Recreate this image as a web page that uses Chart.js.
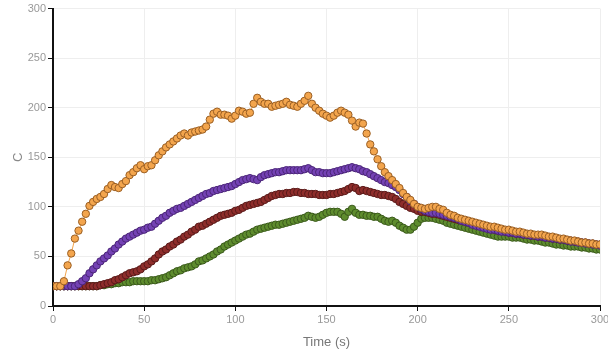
<!DOCTYPE html>
<html>
<head>
<meta charset="utf-8">
<script src="https://cdn.jsdelivr.net/npm/chart.js@4"></script>
<style>
  html, body { margin: 0; padding: 0; background: #fff; }
  #wrap { width: 608px; height: 350px; }
</style>
</head>
<body>
<div id="wrap"><canvas id="chart"></canvas></div>
<script>
"use strict";

// tidpunkter, var 2:a sekund
const times = [];
for (let t = 0; t <= 300; t += 2) times.push(t);

const orangeValues = [
  20, 20, 20, 25, 41, 53, 68, 76, 85, 93,
  101, 105, 108, 110, 113, 118, 122, 120, 119, 123,
  126, 132, 135, 139, 142, 138, 141, 142, 147, 152,
  156, 160, 163, 166, 169, 172, 174, 172, 175, 176,
  177, 178, 181, 188, 194, 196, 193, 193, 192, 189,
  192, 197, 196, 194, 195, 204, 210, 206, 204, 204,
  201, 202, 203, 204, 206, 203, 202, 201, 204, 207,
  212, 204, 200, 197, 194, 192, 190, 192, 195, 197,
  195, 193, 187, 181, 185, 184, 174, 163, 156, 148,
  141, 135, 131, 127, 123, 119, 114, 110, 107, 103,
  100, 99, 98, 99, 100, 100, 98, 97, 94, 92,
  91, 89, 88, 87, 86, 85, 84, 83, 82, 81,
  80, 80, 79, 78, 77, 77, 76, 75, 75, 74,
  73, 73, 72, 72, 72, 71, 70, 70, 69, 68,
  68, 67, 66, 66, 65, 64, 64, 63, 63, 62,
  62
];

const purpleValues = [
  20, 20, 20, 20, 20, 20, 20, 22, 25, 28,
  33, 37, 41, 45, 48, 51, 55, 58, 62, 65,
  68, 70, 72, 74, 76, 77, 79, 80, 83, 86,
  89, 91, 94, 96, 98, 99, 101, 103, 105, 107,
  109, 111, 113, 114, 116, 117, 118, 119, 120, 121,
  123, 125, 127, 128, 129, 128, 127, 130, 132, 133,
  134, 135, 135, 136, 137, 137, 137, 137, 137, 138,
  139, 137, 135, 135, 134, 134, 134, 135, 136, 137,
  138, 139, 140, 139, 138, 136, 135, 133, 131, 129,
  127, 125, 124, 122, 120, 117, 113, 110, 106, 103,
  100, 98, 96, 95, 94, 94, 93, 92, 91, 90,
  89, 88, 86, 85, 84, 82, 81, 80, 79, 78,
  77, 77, 76, 75, 75, 74, 74, 73, 73, 72,
  72, 71, 71, 70, 70, 69, 69, 68, 68, 67,
  67, 66, 65, 65, 64, 64, 63, 63, 62, 62,
  61
];

const brownValues = [
  20, 20, 20, 20, 20, 20, 20, 20, 20, 20,
  20, 20, 20, 21, 22, 23, 24, 26, 27, 29,
  31, 33, 34, 35, 37, 40, 42, 45, 48, 52,
  55, 57, 60, 62, 65, 67, 70, 72, 75, 77,
  80, 81, 83, 85, 87, 89, 91, 92, 93, 94,
  96, 97, 99, 101, 102, 103, 104, 105, 107, 109,
  111, 112, 113, 113, 114, 114, 115, 115, 114, 114,
  113, 113, 113, 112, 112, 112, 113, 113, 114, 115,
  116, 118, 120, 119, 116, 117, 116, 115, 114, 113,
  112, 112, 111, 110, 108, 105, 103, 101, 99, 98,
  96, 95, 95, 94, 93, 93, 92, 91, 90, 89,
  88, 87, 86, 85, 84, 83, 82, 81, 80, 79,
  78, 77, 76, 76, 75, 74, 74, 73, 73, 72,
  72, 71, 71, 70, 70, 69, 69, 68, 68, 67,
  67, 66, 66, 65, 65, 64, 64, 63, 63, 62,
  62
];

const greenValues = [
  20, 20, 20, 20, 20, 20, 20, 20, 20, 20,
  20, 20, 20, 21, 21, 22, 22, 23, 23, 24,
  24, 24, 25, 25, 25, 25, 25, 26, 26, 27,
  28, 29, 31, 33, 35, 36, 38, 39, 40, 42,
  45, 46, 48, 50, 52, 55, 57, 60, 62, 64,
  66, 68, 70, 72, 73, 75, 77, 78, 79, 80,
  81, 82, 82, 83, 84, 85, 86, 87, 88, 89,
  91, 90, 89, 90, 92, 94, 95, 95, 95, 93,
  90, 95, 98, 94, 92, 92, 91, 91, 90, 90,
  88, 86, 85, 86, 84, 81, 79, 77, 77, 80,
  84, 88, 89, 89, 89, 88, 87, 86, 84, 83,
  82, 81, 80, 79, 78, 77, 76, 75, 74, 73,
  72, 71, 70, 70, 70, 70, 69, 69, 69, 68,
  67, 67, 66, 66, 65, 64, 64, 63, 62, 62,
  61, 61, 60, 60, 60, 59, 59, 58, 58, 57,
  57
];

const xTicks = [0, 50, 100, 150, 200, 250, 300];
const yTicks = [0, 50, 100, 150, 200, 250, 300];

// gör om till {x, y}-punkter
function toPoints(values) {
  return values.map((v, i) => ({ x: times[i], y: v }));
}

function makeSeries(values, fill, edge) {
  return {
    data: toPoints(values),
    showLine: true,
    borderColor: fill,
    borderWidth: 1,
    pointBackgroundColor: fill,
    pointBorderColor: edge,
    pointBorderWidth: 1,
    pointRadius: 3.7
  };
}

const ctx = document.getElementById("chart");

new Chart(ctx, {
  type: "scatter",
  data: {
    datasets: [
      makeSeries(orangeValues, "#f3a54d", "#9a5f24"),
      makeSeries(purpleValues, "#7442b4", "#4b2578"),
      makeSeries(brownValues, "#8e2d2b", "#5a1a19"),
      makeSeries(greenValues, "#5e8c2e", "#3b5a1c")
    ]
  },
  options: {
    responsive: true,
    maintainAspectRatio: false,
    animation: false,
    layout: { padding: { top: 8, right: 8, left: 11, bottom: 0 } },
    plugins: {
      legend: { display: false },
      tooltip: { enabled: false }
    },
    scales: {
      x: {
        type: "linear",
        min: 0,
        max: 300,
        afterBuildTicks: scale => { scale.ticks = xTicks.map(v => ({ value: v })); },
        afterFit: scale => { scale.height = 44; scale.paddingRight = 0; },
        border: { color: "#111", width: 2 },
        grid: { color: "#eeeeee", tickColor: "#111", tickLength: 5 },
        ticks: { color: "#999", font: { family: "Liberation Sans", size: 11 }, padding: 2, maxRotation: 0 },
        title: { display: true, text: "Time (s)", color: "#777", font: { family: "Liberation Sans", size: 13 }, padding: { top: 4, bottom: 0 } }
      },
      y: {
        type: "linear",
        min: 0,
        max: 300,
        afterBuildTicks: scale => { scale.ticks = yTicks.map(v => ({ value: v })); },
        afterFit: scale => { scale.width = 42; },
        border: { color: "#111", width: 2 },
        grid: { color: "#eeeeee", tickColor: "#111", tickLength: 5 },
        ticks: { color: "#999", font: { family: "Liberation Sans", size: 11 }, padding: 2 },
        title: { display: true, text: "C", color: "#888", font: { family: "Liberation Sans", size: 13 }, padding: { top: 0, bottom: 4 } }
      }
    }
  }
});
</script>
</body>
</html>
